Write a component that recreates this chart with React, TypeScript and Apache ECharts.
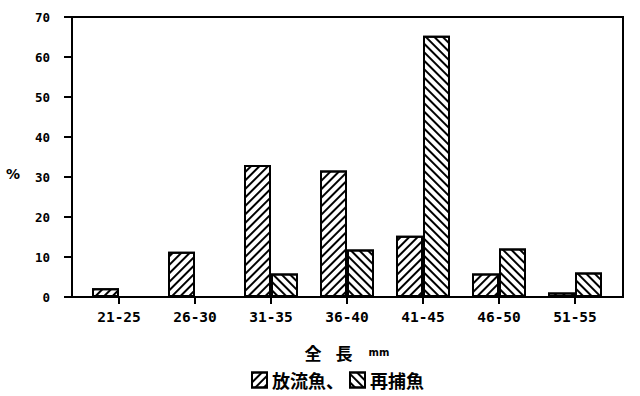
import React, { useEffect, useRef } from "react";
import * as echarts from "echarts";

const categories = ["21-25", "26-30", "31-35", "36-40", "41-45", "46-50", "51-55"];
const released = [2.2, 11.3, 33, 31.6, 15.3, 5.9, 1.1];
const recaptured = [0, 0, 5.9, 11.9, 65.3, 12.1, 6.1];
const seriesNames = ["放流魚", "再捕魚"];
const yTicks = { min: 0, max: 70, interval: 10 };

const monoFont = "'DejaVu Sans Mono', monospace";
const sansFont = "'DejaVu Sans', sans-serif";
const cjkFont = "'Noto Sans CJK JP', sans-serif";

export default function App() {
  const ref = useRef<HTMLDivElement>(null);
  useEffect(() => {
    if (!ref.current) return;
    const chart = echarts.init(ref.current, undefined, { renderer: "svg" });
    const barStyle = (rot: number) => ({
      color: "#fff",
      borderColor: "#000",
      borderWidth: 2,
      decal: {
        symbol: "rect",
        symbolSize: 1,
        color: "#000",
        dashArrayX: [1, 0],
        dashArrayY: [1.6, 3.6],
        rotation: rot,
      },
    });
    chart.setOption({
      animation: false,
      backgroundColor: "#fff",
      grid: [
        { left: 81, right: 27, top: 17, bottom: 99 },
        { left: 72, right: 17, top: 17, bottom: 99, show: true, borderColor: "#000", borderWidth: 2, backgroundColor: "transparent", z: 0 },
      ],
      legend: {
        data: seriesNames,
        top: 366,
        left: 246,
        icon: "rect",
        itemWidth: 15,
        itemHeight: 15,
        itemGap: 5,
        formatter: (n: string) => (n === seriesNames[0] ? n + "、" : n),
        textStyle: { fontFamily: cjkFont, fontWeight: "bold", fontSize: 18, color: "#000" },
      },
      xAxis: [
        {
          type: "category",
          data: categories,
          gridIndex: 0,
          name: "{a|全}{b|長}{u|mm}",
          nameLocation: "middle",
          nameGap: 47,
          nameTextStyle: {
            color: "#000",
            rich: {
              a: { fontFamily: cjkFont, fontWeight: "bold", fontSize: 17, color: "#000", padding: [0, 14, 0, 0] },
              b: { fontFamily: cjkFont, fontWeight: "bold", fontSize: 17, color: "#000", padding: [0, 16, 0, 0] },
              u: { fontFamily: sansFont, fontWeight: "bold", fontSize: 10, color: "#000" },
            },
          },
          axisLine: { show: true, lineStyle: { color: "#000", width: 2 } },
          axisTick: { show: true, alignWithLabel: true, length: 7, lineStyle: { color: "#000", width: 2 } },
          axisLabel: { margin: 12, fontFamily: monoFont, fontWeight: "bold", fontSize: 14.5, color: "#000" },
        },
        { type: "value", gridIndex: 1, show: false, min: 0, max: 1 },
      ],
      yAxis: [
        {
          type: "value",
          gridIndex: 0,
          min: yTicks.min,
          max: yTicks.max,
          interval: yTicks.interval,
          offset: 9,
          name: "\n%",
          nameLocation: "middle",
          nameRotate: 0,
          nameGap: 52,
          nameTextStyle: { fontFamily: sansFont, fontWeight: "bold", fontSize: 14, lineHeight: 34, color: "#000" },
          axisLine: { show: true, lineStyle: { color: "#000", width: 2 } },
          axisTick: { show: true, length: 8, lineStyle: { color: "#000", width: 2 } },
          axisLabel: { margin: 22, fontFamily: monoFont, fontWeight: "bold", fontSize: 12.5, color: "#000" },
          splitLine: { show: false },
        },
        { type: "value", gridIndex: 1, show: false, min: 0, max: 1 },
      ],
      series: [
        {
          name: seriesNames[0],
          type: "bar",
          xAxisIndex: 0,
          yAxisIndex: 0,
          data: released,
          barWidth: 27,
          barGap: "0%",
          itemStyle: barStyle(-Math.PI / 4),
        },
        {
          name: seriesNames[1],
          type: "bar",
          xAxisIndex: 0,
          yAxisIndex: 0,
          data: recaptured,
          barWidth: 27,
          barGap: "0%",
          itemStyle: barStyle(Math.PI / 4),
        },
      ],
    });
    return () => chart.dispose();
  }, []);
  return <div ref={ref} style={{ position: "fixed", left: 0, top: 0, width: 640, height: 396, background: "#fff" }} />;
}
